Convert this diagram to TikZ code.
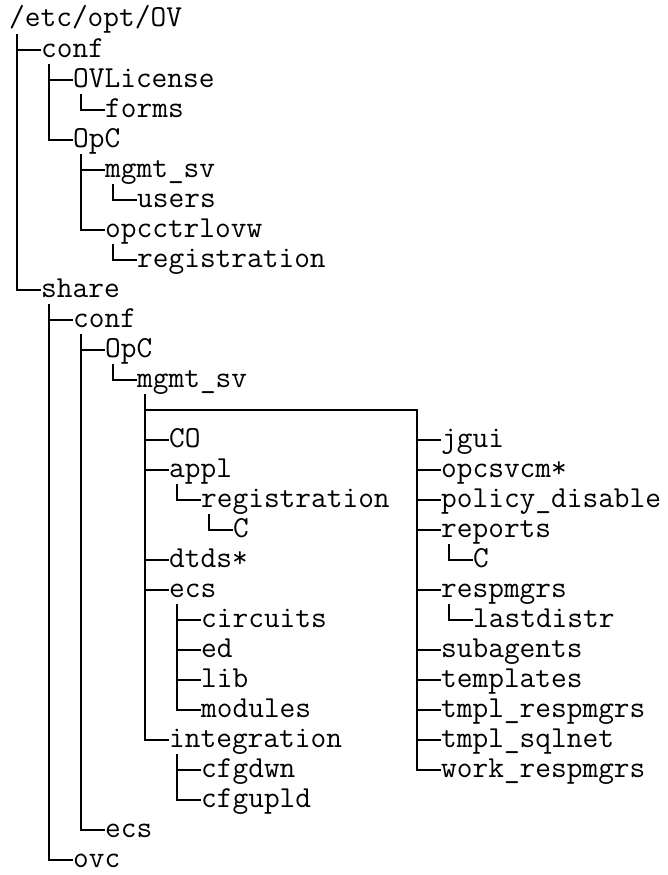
\documentclass[tikz,border=0pt]{standalone}
\usepackage{fontspec}
\tikzset{
  dir/.style={anchor=west,inner xsep=0pt,inner ysep=0pt,text height=14pt,text depth=0pt,
    font=\ttfamily\fontsize{30.5}{34}\selectfont},
  tree/.style={line width=1.8pt},
}
\begin{document}
\begin{tikzpicture}[x=1pt,y=-1pt]
\useasboundingbox (0,0) rectangle (667,875);
\node[dir] (root) at (9,20) {/etc/opt/OV};
\node[dir] (conf) at (41,50) {conf};
\node[dir] (ovlic) at (73,80) {OVLicense};
\node[dir] (forms) at (105,110) {forms};
\node[dir] (opc) at (73,140) {OpC};
\node[dir] (mgmt) at (105,170) {mgmt\_sv};
\node[dir] (users) at (137,200) {users};
\node[dir] (opcctrl) at (105,230) {opcctrlovw};
\node[dir] (reg) at (137,260) {registration};
\node[dir] (share) at (41,290) {share};
\node[dir] (sconf) at (73,320) {conf};
\node[dir] (sopc) at (105,350) {OpC};
\node[dir] (smgmt) at (137,380) {mgmt\_sv};
\coordinate (split) at (417,410);
\node[dir] (co) at (169,440) {CO};
\node[dir] (appl) at (169,470) {appl};
\node[dir] (sreg) at (201,500) {registration};
\node[dir] (sregc) at (233,530) {C};
\node[dir] (dtds) at (169,560) {dtds*};
\node[dir] (secs) at (169,590) {ecs};
\node[dir] (circ) at (201,620) {circuits};
\node[dir] (ed) at (201,650) {ed};
\node[dir] (lib) at (201,680) {lib};
\node[dir] (modules) at (201,710) {modules};
\node[dir] (integ) at (169,740) {integration};
\node[dir] (cfgdwn) at (201,770) {cfgdwn};
\node[dir] (cfgupld) at (201,800) {cfgupld};
\node[dir] (ecs) at (105,830) {ecs};
\node[dir] (ovc) at (73,860) {ovc};
\node[dir] (jgui) at (441,440) {jgui};
\node[dir] (opcsvcm) at (441,470) {opcsvcm*};
\node[dir] (policy) at (441,500) {policy\_disable};
\node[dir] (reports) at (441,530) {reports};
\node[dir] (repc) at (473,560) {C};
\node[dir] (respmgrs) at (441,590) {respmgrs};
\node[dir] (lastdistr) at (473,620) {lastdistr};
\node[dir] (subagents) at (441,650) {subagents};
\node[dir] (templates) at (441,680) {templates};
\node[dir] (tmplresp) at (441,710) {tmpl\_respmgrs};
\node[dir] (tmplsql) at (441,740) {tmpl\_sqlnet};
\node[dir] (workresp) at (441,770) {work\_respmgrs};
\coordinate (smgmtv) at ([xshift=8pt,yshift=-14pt]smgmt.west);
\foreach \p/\c in {root/share,conf/opc,ovlic/forms,opc/opcctrl,mgmt/users,opcctrl/reg,
    share/ovc,sconf/ecs,sopc/smgmt,appl/sreg,sreg/sregc,secs/modules,integ/cfgupld,
    reports/repc,respmgrs/lastdistr}
  \draw[tree] ([xshift=8pt,yshift=-14pt]\p.west) |- (\c.west);
\draw[tree] (smgmtv) |- (integ.west);
\draw[tree] (smgmtv |- split) -- (split) |- (workresp.west);
\foreach \c in {conf,ovlic,mgmt,sconf,sopc,co,appl,dtds,secs,circ,ed,lib,cfgdwn,
    jgui,opcsvcm,policy,reports,respmgrs,subagents,templates,tmplresp,tmplsql}
  \draw[tree] ([xshift=-24pt]\c.west) -- (\c.west);
\end{tikzpicture}
\end{document}
